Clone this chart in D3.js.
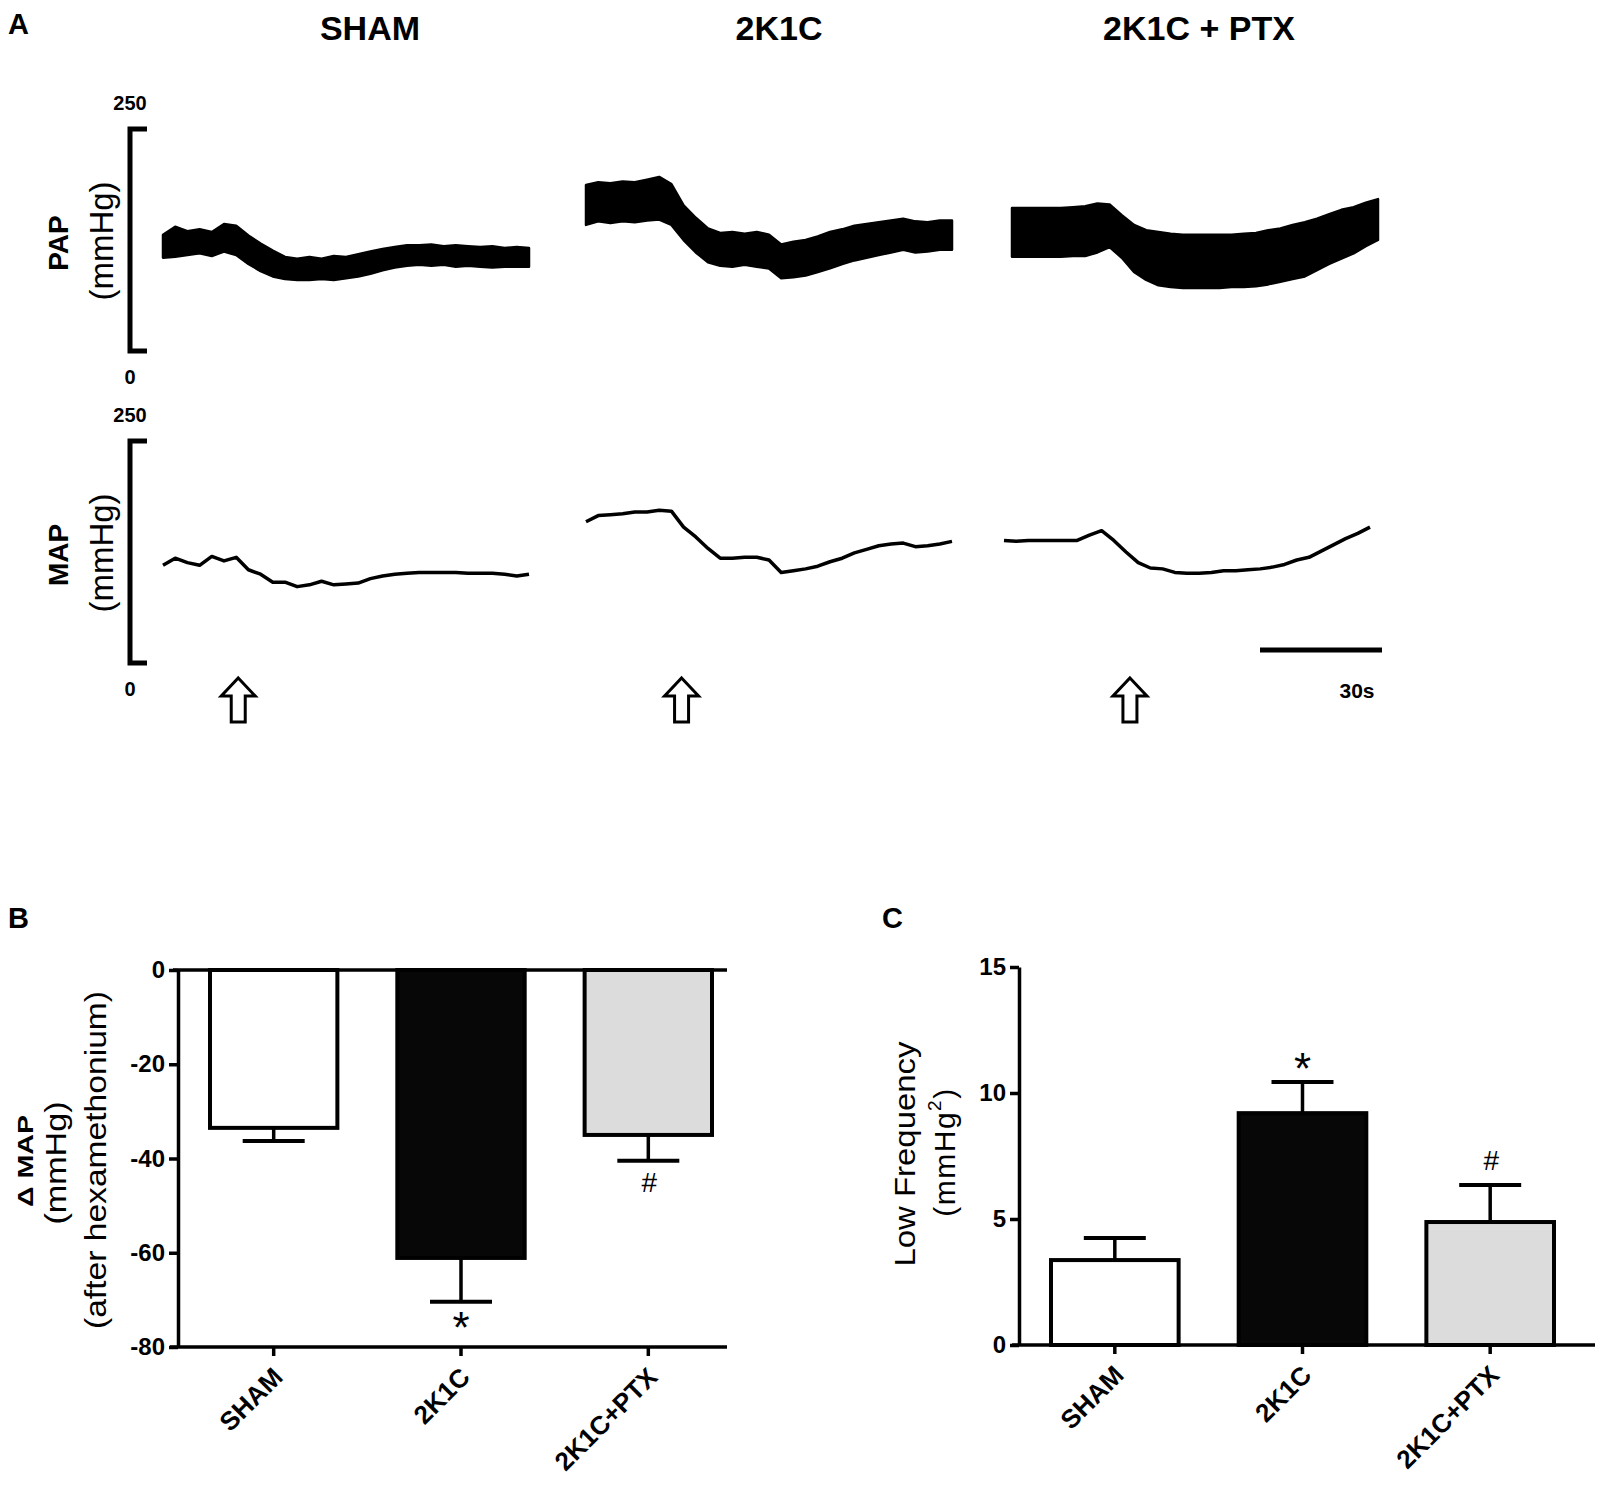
<!DOCTYPE html>
<html>
<head>
<meta charset="utf-8">
<script src="https://cdn.jsdelivr.net/npm/d3@7/dist/d3.min.js"></script>
<style>
  body { margin: 0; background: #fff; }
  svg text { font-family: "Liberation Sans", Arial, sans-serif; fill: #000; }
</style>
</head>
<body>
<div id="chart"></div>
<script>
// ---------- panel A: recordings (mmHg, sampled every 3 s) ----------
const traceGroups = ["SHAM", "2K1C", "2K1C + PTX"];
const sampleTimes = [0, 3, 6, 9, 12, 15, 18, 21, 24, 27, 30, 33, 36, 39, 42, 45,
  48, 51, 54, 57, 60, 63, 66, 69, 72, 75, 78, 81, 84, 87, 90];

// PAP is drawn as a band (upper / lower envelope of the pulsatile signal)
const shamPapHi = [131, 140, 135, 137, 134, 143, 141, 130, 121, 113, 106, 104, 106, 104, 107, 106,
  109, 112, 115, 117, 119, 119, 120, 118, 119, 118, 117, 118, 116, 117, 116];
const shamPapLo = [105, 106, 108, 110, 107, 112, 108, 98, 90, 84, 81, 80, 80, 81, 80, 82,
  84, 87, 91, 94, 96, 97, 96, 97, 95, 96, 95, 94, 95, 95, 95];
const k1cPapHi = [187, 190, 189, 191, 190, 193, 196, 188, 164, 150, 138, 133, 134, 132, 134, 131,
  120, 123, 125, 129, 134, 137, 141, 143, 145, 147, 149, 146, 145, 147, 147];
const k1cPapLo = [142, 146, 144, 146, 145, 147, 148, 142, 125, 111, 100, 96, 95, 97, 95, 93,
  82, 83, 85, 89, 93, 98, 102, 105, 108, 111, 114, 111, 112, 114, 114];
const ptxPapHi = [161, 161, 161, 161, 161, 162, 163, 166, 165, 153, 142, 136, 134, 132, 131, 131,
  131, 131, 131, 132, 133, 136, 138, 142, 145, 149, 154, 159, 162, 167, 171];
const ptxPapLo = [106, 106, 106, 106, 106, 107, 107, 111, 117, 105, 89, 80, 74, 72, 71, 71,
  71, 71, 72, 72, 73, 75, 78, 81, 84, 91, 98, 104, 110, 118, 125];

// MAP traces
const shamMap = [110, 118, 113, 110, 120, 115, 119, 105, 100, 91, 91, 86, 88, 92, 88, 89,
  90, 95, 98, 100, 101, 102, 102, 102, 102, 101, 101, 101, 100, 98, 100];
const k1cMap = [159, 166, 167, 168, 170, 170, 172, 171, 153, 142, 129, 118, 118, 119, 119, 116,
  102, 104, 106, 109, 114, 118, 124, 128, 132, 134, 135, 131, 132, 134, 137];
const ptxMap = [138, 137, 138, 138, 138, 138, 138, 144, 149, 138, 125, 113, 107, 106, 102, 101,
  101, 102, 104, 104, 105, 106, 108, 111, 116, 119, 126, 133, 140, 146, 153];

const arrowTimes = [18.5, 23.5, 29];   // hexamethonium injection (s)
const scaleBarSec = 30;

// ---------- panels B and C ----------
const barCats = ["SHAM", "2K1C", "2K1C+PTX"];
const dMapMean = [-33.5, -61.1, -35.0];
const dMapErr = [2.8, 9.3, 5.5];
const dMapMarks = ["", "*", "#"];
const dMapTicks = [0, -20, -40, -60, -80];
const lfMean = [3.37, 9.2, 4.88];
const lfErr = [0.88, 1.24, 1.47];
const lfMarks = ["", "*", "#"];
const lfTicks = [0, 5, 10, 15];
const barFills = ["#ffffff", "#070707", "#dcdcdc"];

const W = 1600, H = 1490;
const svg = d3.select("#chart").append("svg")
  .attr("width", W).attr("height", H);
svg.append("rect").attr("width", W).attr("height", H).attr("fill", "#fff");

// rotated (bottom-to-top) label, centred on (cx, cy)
function vLabel(parent, cx, cy, text, size, weight, len) {
  const t = parent.append("text")
    .attr("transform", `translate(${cx},${cy}) rotate(-90)`)
    .attr("dy", "0.36em").attr("text-anchor", "middle")
    .attr("font-size", size).attr("font-weight", weight);
  if (len) t.attr("textLength", len).attr("lengthAdjust", "spacingAndGlyphs");
  return t.text(text);
}

// ================= PANEL A =================
svg.append("text").attr("x", 8).attr("y", 34)
  .attr("font-size", 29).attr("font-weight", "bold").text("A");

const headerX = [370, 779, 1199];
svg.selectAll(".hdr").data(traceGroups).join("text")
  .attr("x", (d, i) => headerX[i]).attr("y", 40)
  .attr("text-anchor", "middle").attr("font-size", 34).attr("font-weight", "bold")
  .text(d => d);

const yPap = d3.scaleLinear().domain([0, 250]).range([351, 129]);
const yMap = d3.scaleLinear().domain([0, 250]).range([663, 441]);
const groupX = [163, 586, 1012];
const mapShift = [0, 0, -8];
const traceLen = 366; // px for 90 s

const papBands = [[shamPapHi, shamPapLo], [k1cPapHi, k1cPapLo], [ptxPapHi, ptxPapLo]];
const mapLines = [shamMap, k1cMap, ptxMap];

// vertical calibration brackets
[[yPap, "PAP"], [yMap, "MAP"]].forEach(([ys, name]) => {
  const g = svg.append("g");
  g.append("path")
    .attr("d", `M147,${ys(250)}H130V${ys(0)}H147`)
    .attr("fill", "none").attr("stroke", "#000").attr("stroke-width", 5);
  g.append("text").attr("x", 130).attr("y", ys(250) - 19)
    .attr("text-anchor", "middle").attr("font-size", 20).attr("font-weight", "bold").text("250");
  g.append("text").attr("x", 130).attr("y", ys(0) + 33)
    .attr("text-anchor", "middle").attr("font-size", 20).attr("font-weight", "bold").text("0");
  const cy = (ys(0) + ys(250)) / 2;
  vLabel(g, 57.5, cy + 3, name, 28, "bold");
  vLabel(g, 101, cy + 1, "(mmHg)", 33, "normal");
});

traceGroups.forEach((grp, i) => {
  const x = d3.scaleLinear().domain([0, 90]).range([groupX[i], groupX[i] + traceLen]);
  const xm = d3.scaleLinear().domain([0, 90]).range([groupX[i] + mapShift[i], groupX[i] + mapShift[i] + traceLen]);
  const [hi, lo] = papBands[i];
  const band = sampleTimes.map((t, j) => ({ t, hi: hi[j], lo: lo[j] }));

  svg.append("path")
    .datum(band)
    .attr("fill", "#000").attr("stroke", "#000").attr("stroke-width", 2.5)
    .attr("stroke-linejoin", "round")
    .attr("d", d3.area().x(d => x(d.t)).y0(d => yPap(d.lo)).y1(d => yPap(d.hi)));

  const line = sampleTimes.map((t, j) => ({ t, v: mapLines[i][j] }));
  svg.append("path")
    .datum(line)
    .attr("fill", "none").attr("stroke", "#000").attr("stroke-width", 3.5)
    .attr("stroke-linejoin", "round")
    .attr("d", d3.line().x(d => xm(d.t)).y(d => yMap(d.v)));

  // hollow arrow
  const ax = x(arrowTimes[i]);
  const top = 678, bot = 722, hw = 17, sw = 7, hh = 18;
  svg.append("path")
    .attr("d", `M${ax},${top}L${ax + hw},${top + hh}H${ax + sw}V${bot}H${ax - sw}V${top + hh}H${ax - hw}Z`)
    .attr("fill", "#fff").attr("stroke", "#000").attr("stroke-width", 3)
    .attr("stroke-linejoin", "miter");

  if (i === 2) {
    svg.append("line")
      .attr("x1", x(90 - scaleBarSec) + 4).attr("x2", x(90) + 4)
      .attr("y1", 650).attr("y2", 650)
      .attr("stroke", "#000").attr("stroke-width", 5);
    svg.append("text").attr("x", 1357).attr("y", 698)
      .attr("text-anchor", "middle").attr("font-size", 21).attr("font-weight", "bold")
      .text(scaleBarSec + "s");
  }
});

// ================= PANELS B & C =================
function styleAxis(g) {
  g.select(".domain").attr("stroke-width", 3.5);
  g.selectAll(".tick line").attr("stroke-width", 3.5);
  g.attr("font-size", 24).attr("font-weight", "bold")
    .attr("font-family", "'Liberation Sans', Arial, sans-serif");
}

function drawBars(o) {
  const g = svg.append("g");
  // bars
  g.selectAll("rect").data(barCats).join("rect")
    .attr("x", d => o.x(d))
    .attr("width", o.x.bandwidth())
    .attr("y", (d, i) => Math.min(o.y(0), o.y(o.means[i])))
    .attr("height", (d, i) => Math.abs(o.y(o.means[i]) - o.y(0)))
    .attr("fill", (d, i) => barFills[i])
    .attr("stroke", "#000").attr("stroke-width", 4);
  // error bars
  barCats.forEach((c, i) => {
    const cx = o.x(c) + o.x.bandwidth() / 2;
    const sign = o.means[i] < 0 ? -1 : 1;
    const end = o.means[i] + sign * o.errs[i];
    g.append("line").attr("x1", cx).attr("x2", cx)
      .attr("y1", o.y(o.means[i])).attr("y2", o.y(end))
      .attr("stroke", "#000").attr("stroke-width", 3.5);
    g.append("line").attr("x1", cx - 31).attr("x2", cx + 31)
      .attr("y1", o.y(end)).attr("y2", o.y(end))
      .attr("stroke", "#000").attr("stroke-width", 4);
    if (o.marks[i]) {
      const m = o.marks[i];
      g.append("text").attr("x", cx + (m === "#" ? 1 : 0))
        .attr("y", o.y(end) + o.markDy[m])
        .attr("text-anchor", "middle")
        .attr("font-family", "'Liberation Serif', 'Times New Roman', serif")
        .attr("font-size", m === "*" ? 44 : 28)
        .text(m);
    }
  });
  // y axis
  const ya = g.append("g").attr("transform", `translate(${o.axisX},0)`)
    .call(d3.axisLeft(o.y).tickValues(o.ticks).tickFormat(d => String(d))
      .tickSize(9).tickSizeOuter(0).tickPadding(4));
  styleAxis(ya);
  // x axis line with category ticks
  g.append("line").attr("x1", o.lineX0).attr("x2", o.lineX1)
    .attr("y1", o.baseY).attr("y2", o.baseY)
    .attr("stroke", "#000").attr("stroke-width", 3.5);
  const xa = g.append("g").attr("transform", `translate(0,${o.baseY})`)
    .call(d3.axisBottom(o.x).tickSize(9).tickSizeOuter(0));
  xa.select(".domain").remove();
  styleAxis(xa);
  xa.selectAll(".tick text")
    .attr("x", 0).attr("y", 0).attr("dy", "0.36em")
    .attr("text-anchor", "end").attr("font-size", 26)
    .attr("transform", "translate(4,25) rotate(-45)");
  if (o.zeroLine) {
    g.append("line").attr("x1", o.axisX - 5).attr("x2", o.lineX1)
      .attr("y1", o.y(0)).attr("y2", o.y(0))
      .attr("stroke", "#000").attr("stroke-width", 3.5);
  }
}

// B
svg.append("text").attr("x", 8).attr("y", 928)
  .attr("font-size", 29).attr("font-weight", "bold").text("B");
const yB = d3.scaleLinear().domain([-80, 0]).range([1347, 970]);
const xB = d3.scaleBand().domain(barCats).range([210, 712]).paddingInner(0.32);
drawBars({
  x: xB, y: yB, means: dMapMean, errs: dMapErr, marks: dMapMarks, ticks: dMapTicks,
  axisX: 178, baseY: yB(-80), lineX0: 170, lineX1: 727, zeroLine: true,
  markDy: { "*": 41, "#": 31 }
});
vLabel(svg, 25.5, 1161, "\u0394 MAP", 22, "bold", 92);
vLabel(svg, 55, 1163, "(mmHg)", 30, "normal", 123);
vLabel(svg, 95, 1160, "(after hexamethonium)", 30, "normal", 338);

// C
svg.append("text").attr("x", 882).attr("y", 928)
  .attr("font-size", 29).attr("font-weight", "bold").text("C");
const yC = d3.scaleLinear().domain([0, 15]).range([1345, 967]);
const xC = d3.scaleBand().domain(barCats).range([1051, 1554]).paddingInner(0.32);
drawBars({
  x: xC, y: yC, means: lfMean, errs: lfErr, marks: lfMarks, ticks: lfTicks,
  axisX: 1019, baseY: yC(0), lineX0: 1012, lineX1: 1595, zeroLine: false,
  markDy: { "*": 2, "#": -15 }
});
vLabel(svg, 905, 1154, "Low Frequency", 29, "normal", 225);
const c2 = svg.append("text").attr("transform", "translate(944,1152) rotate(-90)")
  .attr("dy", "0.36em").attr("text-anchor", "middle")
  .attr("font-size", 30).attr("letter-spacing", 1.5);
c2.append("tspan").text("(mmHg");
c2.append("tspan").attr("font-size", 19).attr("dy", "-0.75em").text("2");
c2.append("tspan").attr("dy", "0.48em").text(")");
</script>
</body>
</html>
